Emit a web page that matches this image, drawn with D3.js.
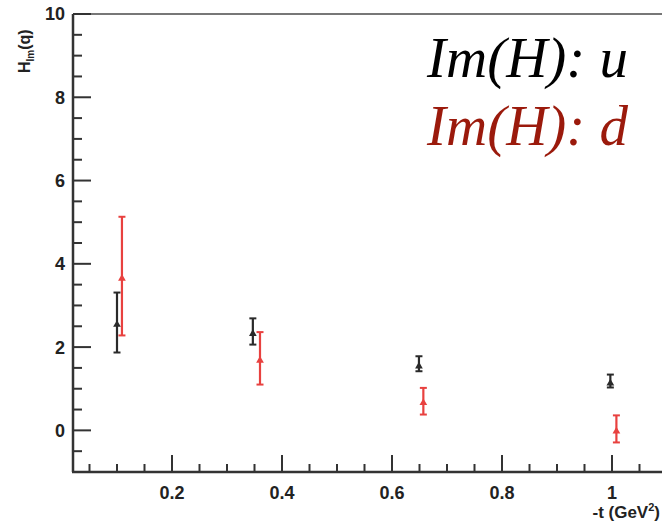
<!DOCTYPE html>
<html>
<head>
<meta charset="utf-8">
<script src="https://cdn.jsdelivr.net/npm/d3@7"></script>
<style>
html,body{margin:0;padding:0;background:#fff;}
svg{display:block;}
</style>
</head>
<body>
<div id="chart"></div>
<script>
// Data
const uT   = [0.100, 0.347, 0.649, 0.997];
const uVal = [2.54, 2.32, 1.54, 1.13];
const uLo  = [1.87, 2.06, 1.42, 1.03];
const uHi  = [3.31, 2.69, 1.78, 1.34];

const dT   = [0.109, 0.360, 0.657, 1.008];
const dVal = [3.65, 1.68, 0.66, -0.02];
const dLo  = [2.28, 1.10, 0.38, -0.29];
const dHi  = [5.13, 2.36, 1.02, 0.36];

const xTickLabels = ["0.2", "0.4", "0.6", "0.8", "1"];
const yTickLabels = ["0", "2", "4", "6", "8", "10"];
const legendLabels = ["u", "d"];

const W = 662, H = 521;
const svg = d3.select("#chart").append("svg").attr("width", W).attr("height", H);

const x = d3.scaleLinear().domain([0.02, 1.1]).range([73, 667]);
const y = d3.scaleLinear().domain([-1, 10]).range([472, 14]);

const axisColor = "#333";
const g = svg.append("g");

// top frame
g.append("line").attr("x1", x(0.02)).attr("x2", W).attr("y1", y(10)).attr("y2", y(10))
  .attr("stroke", "#777").attr("stroke-width", 2);

// Y axis
g.append("line").attr("x1", x(0.02)).attr("x2", x(0.02)).attr("y1", y(10)).attr("y2", y(-1))
  .attr("stroke", axisColor).attr("stroke-width", 2.5);
const yMinor = d3.range(-0.5, 10.01, 0.5);
yMinor.forEach(v => {
  const major = Math.abs(v / 2 - Math.round(v / 2)) < 1e-6;
  g.append("line").attr("x1", x(0.02)).attr("x2", x(0.02) + (major ? 18 : 9))
    .attr("y1", y(v)).attr("y2", y(v)).attr("stroke", axisColor).attr("stroke-width", 2);
});
yTickLabels.forEach(t => {
  g.append("text").attr("x", 65).attr("y", y(+t)).attr("dy", "0.36em")
    .attr("text-anchor", "end").attr("font-family", "Liberation Sans, Arial, sans-serif")
    .attr("font-weight", "bold").attr("font-size", 18).attr("fill", "#222").text(t);
});

// X axis
g.append("line").attr("x1", x(0.02) - 1).attr("x2", W).attr("y1", y(-1)).attr("y2", y(-1))
  .attr("stroke", axisColor).attr("stroke-width", 2.5);
const xMinor = d3.range(0.05, 1.101, 0.05);
xMinor.forEach(v => {
  const major = Math.abs(v / 0.2 - Math.round(v / 0.2)) < 1e-6;
  g.append("line").attr("x1", x(v)).attr("x2", x(v))
    .attr("y1", y(-1)).attr("y2", y(-1) - (major ? 17 : 8))
    .attr("stroke", axisColor).attr("stroke-width", 2);
});
xTickLabels.forEach(t => {
  g.append("text").attr("x", x(+t)).attr("y", 499)
    .attr("text-anchor", "middle").attr("font-family", "Liberation Sans, Arial, sans-serif")
    .attr("font-weight", "bold").attr("font-size", 18).attr("fill", "#222").text(t);
});

// axis titles
const xt = g.append("text").attr("x", 660).attr("y", 518).attr("text-anchor", "end")
  .attr("font-family", "Liberation Sans, Arial, sans-serif").attr("font-weight", "bold")
  .attr("font-size", 17).attr("fill", "#222");
xt.append("tspan").text("-t (GeV");
xt.append("tspan").attr("font-size", 11).attr("dy", -7).text("2");
xt.append("tspan").attr("dy", 7).text(")");

const yt = g.append("text").attr("transform", "translate(30,73) rotate(-90)")
  .attr("font-family", "Liberation Sans, Arial, sans-serif").attr("font-weight", "bold")
  .attr("font-size", 16).attr("fill", "#222");
yt.append("tspan").text("H");
yt.append("tspan").attr("font-size", 10).attr("dy", 4).text("Im");
yt.append("tspan").attr("dy", -4).text("(q)");

// series drawing
function drawSeries(ts, vals, lo, hi, color) {
  const s = g.append("g");
  ts.forEach((t, i) => {
    const cx = x(t);
    s.append("line").attr("x1", cx).attr("x2", cx).attr("y1", y(lo[i])).attr("y2", y(hi[i]))
      .attr("stroke", color).attr("stroke-width", 2.2);
    [lo[i], hi[i]].forEach(v => {
      s.append("line").attr("x1", cx - 3.5).attr("x2", cx + 3.5).attr("y1", y(v)).attr("y2", y(v))
        .attr("stroke", color).attr("stroke-width", 2);
    });
    s.append("path").attr("d", d3.symbol(d3.symbolTriangle, 26)())
      .attr("transform", `translate(${cx},${y(vals[i])})`).attr("fill", color);
  });
}
drawSeries(uT, uVal, uLo, uHi, "#2a2a2a");
drawSeries(dT, dVal, dLo, dHi, "#e8413f");

// legend text
const legColors = ["#000000", "#9b1a0c"];
legendLabels.forEach((l, i) => {
  g.append("text").attr("x", 427).attr("y", 77 + i * 68)
    .attr("font-family", "Liberation Serif, Times New Roman, serif").attr("font-style", "italic")
    .attr("font-size", 57).attr("fill", legColors[i]).text("Im(H): " + l);
});
</script>
</body>
</html>
